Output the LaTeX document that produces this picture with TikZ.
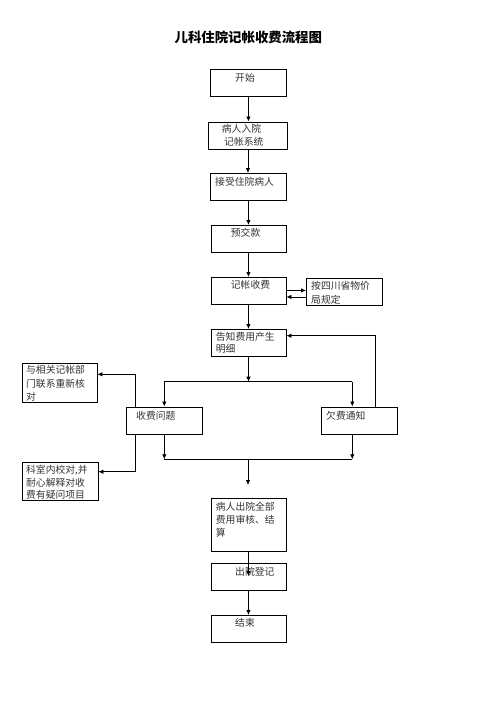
\documentclass[tikz,border=0pt]{standalone}
\usepackage{fontspec}
\newfontfamily\cjk{Noto Sans CJK SC}
\usetikzlibrary{arrows.meta}
\begin{document}
\begin{tikzpicture}[x=1pt,y=-1pt,
  box/.style={draw, line width=0.9pt, anchor=north west, inner sep=0pt},
  txt/.style={anchor=north west, inner sep=0pt, align=left, text=black!80, yshift=-1.3pt,
    font=\cjk\fontsize{9.8}{13}\selectfont},
  ln/.style={line width=0.8pt},
  arr/.style={line width=0.8pt, -{Latex[length=5pt,width=4.5pt]}}]
\useasboundingbox (0,0) rectangle (496,702);
\fill[white] (0,0) rectangle (496,702);
% title
\node[font=\cjk\bfseries\fontsize{13.4}{16}\selectfont] (title) at (248.3,37) {儿科住院记帐收费流程图};
% boxes
\node[box, minimum width=76pt, minimum height=27pt] (start) at (210,69) {};
\node[box, minimum width=79pt, minimum height=27pt] (admit) at (208,121.5) {};
\node[box, minimum width=76pt, minimum height=27pt] (accept) at (210,173) {};
\node[box, minimum width=75pt, minimum height=27pt] (prepay) at (210.5,225) {};
\node[box, minimum width=75pt, minimum height=27pt] (bill) at (210.5,277) {};
\node[box, minimum width=76pt, minimum height=27pt] (rule) at (306,278) {};
\node[box, minimum width=75pt, minimum height=27pt] (notify) at (210.5,329) {};
\node[box, minimum width=75pt, minimum height=39pt] (recheck) at (21.5,362.5) {};
\node[box, minimum width=76pt, minimum height=27.5pt] (issue) at (126,406.5) {};
\node[box, minimum width=76pt, minimum height=27.5pt] (arrears) at (321,406.5) {};
\node[box, minimum width=76pt, minimum height=38.5pt] (explain) at (21.5,461.5) {};
\node[box, minimum width=75pt, minimum height=53pt] (settle) at (210.5,498) {};
\node[box, minimum width=75pt, minimum height=27pt] (discharge) at (210.5,563) {};
\node[box, minimum width=75pt, minimum height=27pt] (end) at (210.5,615) {};
% texts
\node[txt] (t-start) at (235,71.4) {开始};
\node[txt, font=\cjk\fontsize{9.8}{12.7}\selectfont] (t-admit) at (221.7,122.7) {病人入院\\\hspace{2.3pt}记帐系统};
\node[txt] (t-accept) at (215,175.4) {接受住院病人};
\node[txt] (t-prepay) at (230.7,227.1) {预交款};
\node[txt] (t-bill) at (230.7,278.7) {记帐收费};
\node[txt, font=\cjk\fontsize{9.8}{14.3}\selectfont] (t-rule) at (311,279.4) {按四川省物价\\局规定};
\node[txt, font=\cjk\fontsize{9.8}{11.8}\selectfont] (t-notify) at (215.7,331.1) {告知费用产生\\明细};
\node[txt, font=\cjk\fontsize{9.8}{13.8}\selectfont] (t-recheck) at (26,363.5) {与相关记帐部\\门联系重新核\\对};
\node[txt] (t-issue) at (136,409.4) {收费问题};
\node[txt] (t-arrears) at (326,409.4) {欠费通知};
\node[txt, font=\cjk\fontsize{9.8}{12.5}\selectfont] (t-explain) at (26,463.7) {科室内校对,并\\耐心解释对收\\费有疑问项目};
\node[txt, font=\cjk\fontsize{9.8}{13.3}\selectfont] (t-settle) at (215.7,500.4) {病人出院全部\\费用审核、结\\算};
\node[txt] (t-discharge) at (235,565.4) {出院登记};
\node[txt] (t-end) at (235,617.1) {结束};
% helper coordinates
\coordinate (bl) at (164.3,381.7);
\coordinate (br) at (352.3,381.7);
\coordinate (fb) at (375,335.7);
\coordinate (q1) at (135,374.3);
\coordinate (q2) at (135,471.7);
\coordinate (ml) at (164.3,459.3);
\coordinate (mr) at (352.3,459.3);
\coordinate (mm) at (248,459.3);
\coordinate (mend) at (248,485);
\coordinate (inner) at (248,576);
% connectors
\draw[arr] (start.south) -- (start.south |- admit.north);
\draw[arr] (admit.south) -- (admit.south |- accept.north);
\draw[arr] (accept.south) -- (accept.south |- prepay.north);
\draw[arr] (prepay.south) -- (prepay.south |- bill.north);
\draw[arr] (bill.south) -- (bill.south |- notify.north);
\draw[arr] ([yshift=0.5pt]bill.east) -- ([yshift=0.5pt]bill.east -| rule.west);
\draw[arr] ([yshift=-6pt]bill.east -| rule.west) -- ([yshift=-6pt]bill.east);
\draw[arr] (notify.south) -- (notify.south |- bl);
\draw[ln] (bl) -- (br);
\draw[arr] (bl) -- (bl |- issue.north);
\draw[arr] (br) -- (br |- arrears.north);
\draw[arr] (arrears.north -| fb) |- (notify.east |- fb);
\draw[arr] (issue.north -| q1) |- (recheck.east |- q1);
\draw[arr] (issue.south -| q2) |- (explain.east |- q2);
\draw[arr] (issue.south -| ml) -- (ml);
\draw[arr] (arrears.south -| mr) -- (mr);
\draw[ln] (ml) -- (mr);
\draw[arr] (mm) -- (mend);
\draw[arr] (settle.south) -- (settle.south |- inner);
\draw[arr] (discharge.south) -- (discharge.south |- end.north);
\end{tikzpicture}
\end{document}
